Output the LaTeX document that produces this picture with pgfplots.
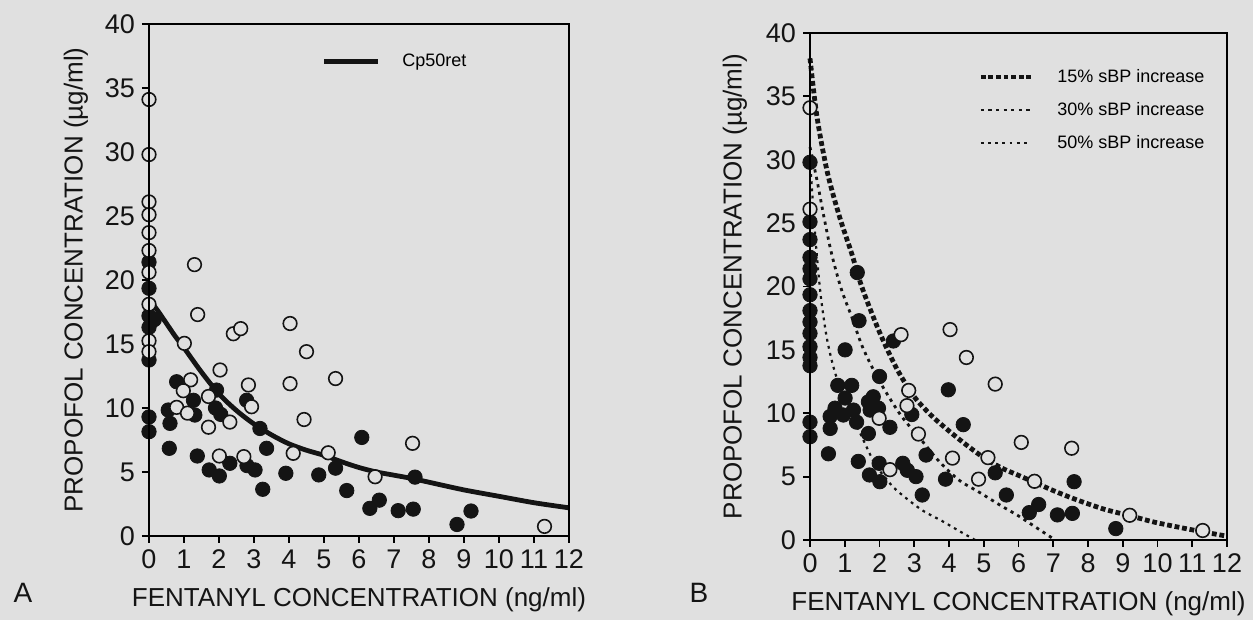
\documentclass[border=0pt]{standalone}
\usepackage{fontspec}
\setmainfont{Liberation Sans}
\usepackage{pgfplots}
\pgfplotsset{compat=1.18}
\definecolor{paper}{RGB}{224,224,224}
\definecolor{ink}{RGB}{20,20,20}
\begin{document}
\begin{tikzpicture}
\fill[paper] (0,0) rectangle (626.5pt,310pt);
\useasboundingbox (0,0) rectangle (626.5pt,310pt);
\pgfplotsset{
  panel/.style={
    scale only axis, xmin=0, xmax=12, ymin=0, ymax=40,
    xtick={0,...,12}, ytick={0,5,...,40},
    tick align=outside, xtick pos=bottom, ytick pos=left,
    major tick length=3.5pt,
    tick style={black,line width=0.9pt},
    axis line style={black,line width=1pt},
    clip=false,
    /pgf/number format/assume math mode=true,
    tick label style={font=\fontsize{13.5}{13.5}\selectfont, text=ink},
    label style={font=\fontsize{13}{13}\selectfont, text=ink},
    xlabel={FENTANYL CONCENTRATION (ng/ml)},
    ylabel={PROPOFOL CONCENTRATION (µg/ml)},
    xlabel style={at={(axis description cs:0.5,-0.125)}, anchor=center},
    legend cell align=left,
  },
  filled/.style={only marks, mark=*, mark size=3.6pt, mark options={fill=ink,draw=ink}},
  open/.style={only marks, mark=*, mark size=3.4pt, mark options={fill=paper,draw=ink,line width=0.8pt}},
}
% ---------------- Panel A ----------------
\begin{axis}[panel, name=pa,
  at={(74.5pt,42pt)}, anchor=south west, width=210pt, height=256pt,
  ylabel style={at={(axis description cs:-0.174,0.5)}, anchor=center},
  legend style={at={(axis description cs:0.41,0.926)}, anchor=west, draw=none, fill=none,
    font=\fontsize{9}{9}\selectfont, inner sep=0pt,
    /tikz/every odd column/.append style={column sep=9pt}},
  legend image code/.code={\draw[#1] (0pt,0pt) -- (27pt,0pt);},
]
\addplot[ink, line width=2.4pt, smooth] table {
x y
0 18.5
0.25 17.6
0.5 16.6
0.75 15.6
1 14.7
1.5 12.8
2 11.1
2.5 9.8
3 8.75
3.5 7.9
4 7.2
4.5 6.7
5 6.3
5.5 5.8
6 5.35
6.5 5.0
7 4.75
7.5 4.5
8 4.2
9 3.6
10 3.1
11 2.6
12 2.2
};
\addlegendentry{Cp50ret}
\addplot[filled, forget plot] table {
x y
0 21.4
0 19.35
0 17.2
0 16.3
0.15 16.9
0 13.75
0 9.3
0 8.15
0.79 12.05
0.55 9.84
0.6 8.8
1.31 9.45
1.27 10.6
0.58 6.85
1.93 11.4
1.9 10.0
2.05 9.5
2.79 10.6
3.17 8.4
3.36 6.85
1.38 6.25
1.72 5.16
2.01 4.69
2.31 5.68
2.8 5.5
3.03 5.16
3.25 3.65
3.91 4.9
4.85 4.77
5.33 5.3
5.65 3.55
6.08 7.7
6.31 2.16
6.58 2.8
7.12 1.98
7.55 2.1
7.6 4.6
8.8 0.9
9.2 1.95
};
\addplot[open, forget plot] table {
x y
0 34.1
0 29.8
0 26.1
0 25.1
0 23.7
0 22.3
0 20.6
0 18.1
0 15.25
0 14.4
1.3 21.2
1.39 17.3
1.01 15.05
2.41 15.8
2.62 16.2
4.03 16.6
4.5 14.4
5.33 12.3
4.03 11.9
4.43 9.1
2.03 12.97
2.84 11.8
2.93 10.1
1.19 12.2
0.98 11.35
0.79 10.05
1.1 9.6
1.7 10.9
1.7 8.5
2.31 8.9
2.01 6.25
2.71 6.2
4.12 6.46
5.12 6.5
6.46 4.63
7.53 7.24
11.3 0.75
};
\node[font=\fontsize{14}{14}\selectfont, text=ink] at (axis description cs:-0.30,-0.111) {A};
\end{axis}
\draw[black, line width=1.2pt] (pa.south west) rectangle (pa.north east);
% ---------------- Panel B ----------------
\begin{axis}[panel, name=pb,
  at={(405pt,40pt)}, anchor=south west, width=208.5pt, height=253.5pt,
  ylabel style={at={(axis description cs:-0.18,0.5)}, anchor=center},
  legend style={at={(axis description cs:0.403,0.848)}, anchor=west, draw=none, fill=none,
    font=\fontsize{9}{9}\selectfont, inner sep=0pt, row sep=4.5pt,
    /tikz/every odd column/.append style={column sep=10pt}},
  legend image code/.code={\draw[#1] (0pt,0pt) -- (25pt,0pt);},
]
\addplot[ink, line width=2.4pt, dash pattern=on 2.4pt off 1.4pt, smooth] table {
x y
0 38
0.2 33.4
0.5 29.0
0.85 25.5
1.2 22.6
1.5 19.9
2 16.4
2.5 13.5
3 11.3
3.5 9.8
4 8.6
4.5 7.5
5 6.5
5.5 5.7
6 5.1
6.5 4.5
7 3.9
7.5 3.35
8 2.85
8.5 2.4
9 2.05
9.5 1.7
10 1.35
11 0.8
12 0.3
};
\addlegendentry{15\% sBP increase}
\addplot[ink, line width=1.4pt, dash pattern=on 1.6pt off 2.2pt, smooth] table {
x y
0 31
0.2 28.4
0.4 25.5
0.62 22.6
0.9 19.8
1.2 17.6
1.5 15.3
1.85 13.3
2.2 11.6
2.65 9.7
3.2 7.9
3.75 6.1
4.3 4.7
4.85 3.8
5.5 2.7
6 1.9
6.5 1.0
7 0.1
};
\addlegendentry{30\% sBP increase}
\addplot[ink, line width=1.1pt, dash pattern=on 1.4pt off 2.2pt, smooth] table {
x y
0 30
0.15 24
0.3 19.5
0.48 16
0.7 13.4
1 11.0
1.25 9.6
1.55 7.8
1.87 6.0
2.2 4.8
2.5 3.9
3.2 2.4
3.8 1.5
4.3 0.7
4.75 0
};
\addlegendentry{50\% sBP increase}
\addplot[filled, forget plot] table {
x y
0 29.8
0 25.1
0 23.7
0 22.3
0 21.4
0 20.6
0 19.35
0 18.1
0 17.2
0 16.3
0 15.25
0 14.4
0 13.75
0 9.3
0 8.15
1.36 21.1
1.41 17.3
1.01 15.0
2.4 15.7
2.0 12.9
0.8 12.2
1.2 12.2
1.01 11.2
0.72 10.4
1.25 10.25
0.58 9.75
0.58 8.8
0.96 9.86
1.34 9.3
0.53 6.8
1.82 11.3
1.68 10.9
1.97 10.4
1.73 10.25
2.3 8.89
1.68 8.4
2.93 9.9
3.98 11.85
4.41 9.1
3.34 6.7
1.39 6.2
1.71 5.13
2.01 4.6
1.99 6.05
2.67 6.05
2.8 5.5
3.05 5.0
3.23 3.55
3.9 4.8
5.33 5.3
5.65 3.55
6.31 2.16
6.58 2.8
7.12 1.98
7.55 2.1
7.6 4.6
8.8 0.9
};
\addplot[open, forget plot] table {
x y
0 34.1
0 26.1
2.62 16.2
4.03 16.6
4.5 14.4
5.33 12.3
2.84 11.8
2.79 10.6
1.99 9.6
3.12 8.36
2.3 5.55
4.1 6.46
4.85 4.8
5.12 6.5
6.08 7.7
6.46 4.63
7.53 7.24
9.2 1.95
11.3 0.75
};
\node[font=\fontsize{14}{14}\selectfont, text=ink] at (axis description cs:-0.266,-0.105) {B};
\end{axis}
\draw[black, line width=1.2pt] (pb.south west) rectangle (pb.north east);
\end{tikzpicture}
\end{document}
